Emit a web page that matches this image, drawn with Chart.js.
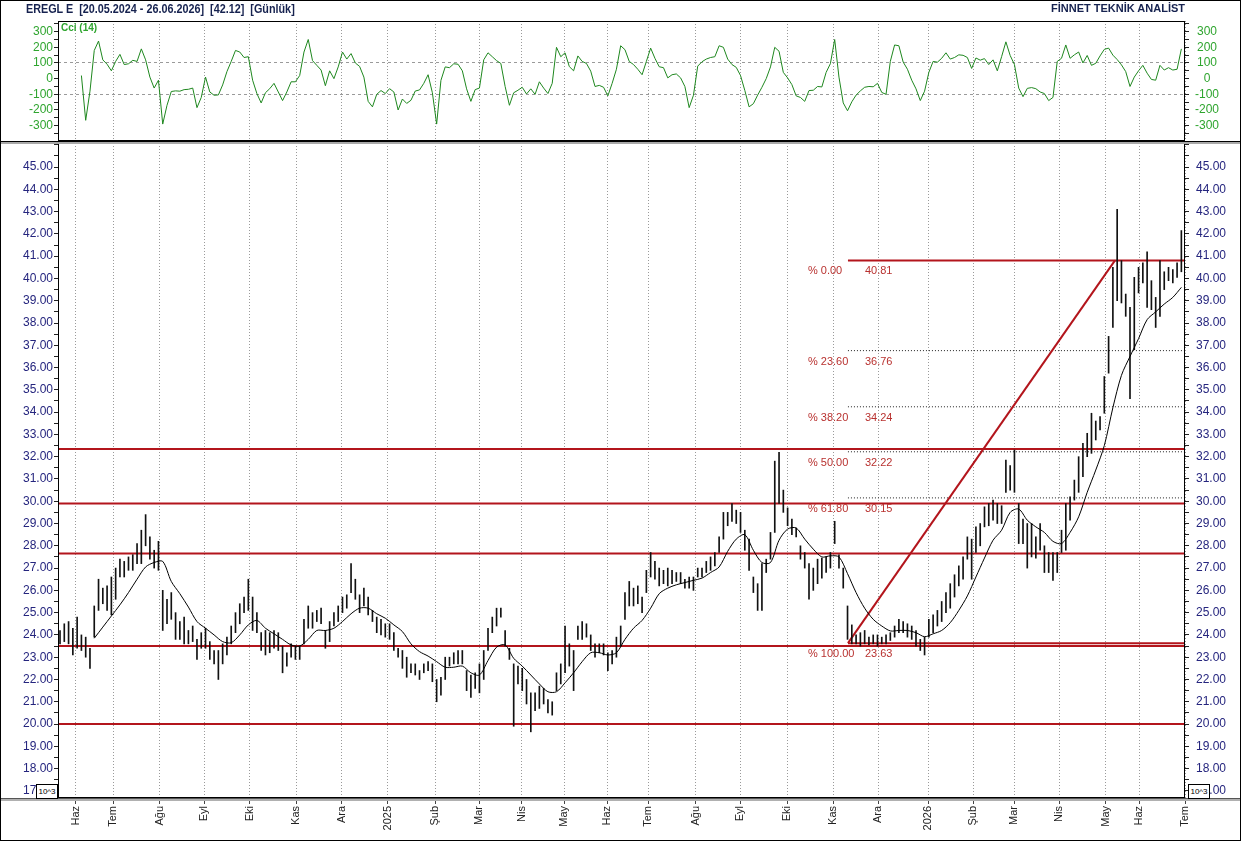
<!DOCTYPE html>
<html>
<head>
<meta charset="utf-8">
<script src="https://cdn.jsdelivr.net/npm/chart.js@4.4.1/dist/chart.umd.min.js"></script>
<style>
  body { margin: 0; background: #fff; }
  #wrap { position: relative; width: 1241px; height: 841px; overflow: hidden; background: #fff;
          font-family: "Liberation Sans", Arial, Helvetica, sans-serif; }
  #frame { position: absolute; left: 0; top: 0; width: 1241px; height: 841px; box-sizing: border-box;
           border: 1px solid #000; z-index: 5; pointer-events: none; }
  canvas { position: absolute; left: 0; }
  #cci { top: 0; }
  #price { top: 143px; }
  .band { position: absolute; left: 0; width: 1241px; z-index: 4; }
  #band1 { top: 141px; height: 1px; background: #000; border-bottom: 2px solid #a9a9a9; }
  #band2 { top: 798px; height: 1px; background: #555; border-bottom: 2px solid #b0b0b0; }
  #title { position: absolute; left: 26px; top: 2px; font-size: 12px; font-weight: bold; color: #16224f; white-space: pre;
           transform: scaleX(0.9); transform-origin: left center; }
  #brand { position: absolute; right: 56px; top: 2px; font-size: 11px; font-weight: bold; color: #16224f; white-space: pre; }
  #cciName { position: absolute; left: 61px; top: 22px; font-size: 10px; font-weight: bold; color: #2fa52f; }
  .exp { position: absolute; top: 784px; width: 20px; height: 13px; border: 1px solid #000; background: #fff;
         font-size: 8px; line-height: 13px; text-align: center; color: #000; z-index: 6; }
</style>
</head>
<body>
<div id="wrap">
  <canvas id="cci" width="1241" height="141"></canvas>
  <canvas id="price" width="1241" height="698"></canvas>
  <div id="band1" class="band"></div>
  <div id="band2" class="band"></div>
  <div id="title">EREGL E  [20.05.2024 - 26.06.2026]  [42.12]  [Günlük]</div>
  <div id="brand">FİNNET TEKNİK ANALİST</div>
  <div id="cciName">Cci (14)</div>
  <div class="exp" style="left:36px">10^3</div>
  <div class="exp" style="left:1188px">10^3</div>
  <div id="frame"></div>
</div>
<script>
const FONT = '"Liberation Sans", Arial, Helvetica, sans-serif';
const RED = "#b3151c";
const NAVY = "#25257e";
const GREEN_TXT = "#2fa52f";
const GREEN_LINE = "#1e871e";

// x runs in bar units (one bar = two trading days)
const X_MIN = -0.47;
const X_MAX = 262.85;
const Y_MIN = 16.68;
const Y_MAX = 46.08;

const monthLabels = ["Haz", "Tem", "Ağu", "Eyl", "Eki", "Kas", "Ara", "2025", "Şub", "Mar", "Nis", "May", "Haz",
  "Tem", "Ağu", "Eyl", "Eki", "Kas", "Ara", "2026", "Şub", "Mar", "Nis", "May", "Haz", "Tem"];
const monthPos = [3.67, 12.45, 23.36, 33.71, 44.39, 55.14, 65.82, 76.57, 87.62, 97.9, 107.87, 117.83, 127.87,
  137.45, 148.53, 158.88, 169.93, 180.68, 191.19, 202.87, 213.39, 222.97, 233.48, 244.39, 252.17, 262.85];

const lows = [
  23.6, 23.7, 23.6, 23.1, 23.4, 23.3, 23.0, 22.5, 23.9, 25.1,
  25.4, 25.1, 24.9, 25.6, 26.6, 26.6, 26.9, 26.9, 27.2, 27.2,
  28.0, 27.4, 27.0, 26.9, 24.2, 24.5, 24.7, 23.8, 23.8, 23.6,
  23.6, 23.7, 22.9, 23.4, 23.4, 22.9, 22.7, 22.0, 22.7, 23.1,
  23.6, 24.1, 24.5, 25.0, 25.1, 24.2, 24.1, 23.3, 23.1, 23.2,
  23.4, 23.3, 22.3, 22.6, 23.0, 22.9, 22.9, 23.6, 24.3, 24.3,
  24.6, 24.5, 23.4, 23.7, 24.4, 24.6, 25.0, 25.2, 25.9, 25.6,
  25.0, 25.3, 24.9, 24.6, 24.1, 24.0, 23.9, 23.8, 23.3, 23.0,
  22.5, 22.1, 22.3, 22.2, 22.0, 22.3, 22.4, 21.9, 21.0, 21.3,
  22.0, 22.6, 22.7, 22.7, 22.7, 21.5, 21.2, 21.6, 21.4, 22.0,
  23.3, 24.1, 24.4, 24.8, 23.5, 22.9, 19.9, 21.8, 21.5, 20.9,
  19.65, 20.6, 20.7, 20.9, 20.5, 20.4, 21.5, 21.8, 22.3, 22.6,
  21.5, 23.8, 23.8, 23.9, 23.3, 23.0, 23.2, 23.1, 22.4, 22.7,
  23.0, 23.5, 24.7, 25.3, 25.3, 25.4, 25.0, 25.9, 26.6, 26.5,
  26.2, 26.3, 26.2, 26.3, 26.4, 26.3, 26.1, 26.1, 26.0, 26.6,
  26.6, 26.8, 26.9, 27.1, 27.7, 28.3, 28.9, 29.1, 29.0, 28.6,
  27.8, 26.9, 25.9, 25.1, 25.1, 26.8, 27.4, 28.6, 29.9, 29.5,
  28.9, 28.5, 28.4, 27.4, 27.0, 25.6, 26.0, 26.3, 26.55, 26.8,
  27.0, 28.1, 27.0, 26.1, 23.8, 23.6, 23.6, 23.5, 23.6, 23.55,
  23.6, 23.5, 23.6, 23.6, 23.75, 23.9, 24.1, 24.1, 23.9, 23.8,
  23.5, 23.3, 23.1, 23.9, 24.1, 24.4, 24.6, 25.0, 25.2, 25.7,
  26.2, 26.5, 27.4, 26.5, 27.7, 28.0, 28.85, 28.9, 29.15, 29.0,
  29.0, 30.4, 30.5, 30.4, 28.1, 28.1, 27.0, 27.5, 27.45, 27.8,
  26.8, 26.8, 26.45, 26.8, 27.7, 27.8, 29.15, 30.05, 30.4, 31.1,
  32.0, 32.15, 32.75, 33.2, 33.95, 35.75, 37.8, 39.0, 38.9, 38.3,
  34.6, 36.8, 39.35, 39.8, 38.7, 38.6, 37.8, 38.3, 39.5, 39.9,
  39.8, 40.05, 40.3
];
const highs = [
  24.2, 24.5, 24.6, 24.3, 24.8, 24.0, 23.9, 23.4, 25.3, 26.5,
  26.1, 26.2, 26.6, 27.0, 27.4, 27.3, 27.5, 27.6, 28.1, 28.7,
  29.4, 28.4, 27.8, 28.2, 26.0, 25.6, 25.9, 25.0, 24.6, 24.8,
  24.2, 24.4, 23.8, 24.1, 24.3, 23.7, 23.3, 23.3, 23.6, 23.9,
  24.4, 25.0, 25.4, 25.7, 26.5, 25.7, 25.0, 24.1, 24.2, 24.1,
  24.2, 24.1, 23.5, 23.2, 23.6, 23.5, 23.5, 24.7, 25.3, 25.0,
  25.1, 25.2, 24.2, 24.6, 25.0, 25.3, 25.7, 25.8, 27.2, 26.5,
  25.8, 26.1, 25.7, 25.1, 24.8, 24.7, 24.5, 24.5, 24.1, 23.4,
  23.3, 23.0, 22.7, 22.7, 22.4, 22.7, 22.8, 22.7, 22.0, 22.1,
  23.0, 23.0, 23.2, 23.3, 23.3, 22.4, 22.2, 22.3, 22.7, 23.3,
  24.3, 24.8, 25.2, 25.2, 24.2, 23.4, 22.7, 22.6, 22.5, 22.0,
  21.4, 21.4, 21.7, 21.6, 21.1, 21.0, 22.3, 22.7, 24.4, 23.6,
  23.3, 24.4, 24.6, 24.5, 24.0, 23.6, 23.6, 23.6, 23.2, 23.3,
  23.9, 24.4, 25.9, 26.4, 26.1, 26.2, 25.7, 26.9, 27.7, 27.3,
  27.0, 26.9, 27.0, 26.9, 26.8, 26.8, 26.5, 26.6, 26.6, 27.0,
  27.0, 27.3, 27.5, 27.7, 28.4, 29.5, 29.5, 29.9, 29.6, 29.5,
  28.7, 28.3, 26.6, 26.3, 27.2, 27.4, 28.6, 31.8, 32.2, 30.5,
  29.7, 29.2, 28.8, 28.0, 27.7, 27.2, 27.0, 27.4, 27.45, 27.5,
  27.7, 29.1, 27.6, 27.0, 25.3, 24.45, 24.0, 24.1, 24.2, 23.9,
  24.0, 24.0, 23.9, 24.0, 24.1, 24.4, 24.7, 24.6, 24.5, 24.4,
  24.2, 23.8, 23.9, 24.7, 24.9, 25.1, 25.5, 25.9, 26.3, 26.7,
  27.1, 27.5, 28.4, 28.3, 28.85, 29.0, 29.75, 29.9, 30.05, 29.9,
  29.8, 31.85, 31.6, 32.3, 29.9, 29.2, 29.0, 29.0, 28.4, 29.0,
  28.0, 27.7, 27.7, 27.7, 28.7, 29.9, 30.2, 30.95, 32.0, 32.6,
  33.05, 33.95, 33.6, 33.8, 35.6, 37.4, 40.5, 43.1, 40.8, 39.3,
  38.7, 40.05, 40.5, 40.7, 41.2, 39.9, 39.15, 40.8, 40.3, 40.5,
  40.4, 40.7, 42.15
];

// moving average, read every second bar starting at bar 8
const MA_START = 8;
const maVals = [
  23.85, 24.35, 24.85, 25.35, 25.9, 26.5, 27.05, 27.25, 27.3, 26.4,
  25.85, 25.25, 24.6, 24.3, 24.0, 23.7, 23.65, 24.0, 24.45, 24.65,
  24.3, 24.05, 23.8, 23.55, 23.5, 23.8, 24.2, 24.2, 24.3, 24.6,
  24.95, 25.2, 25.2, 24.95, 24.75, 24.45, 24.15, 23.6, 23.25, 23.05,
  22.8, 22.55, 22.55, 22.6, 22.3, 22.2, 22.85, 23.45, 23.55, 22.95,
  22.6, 22.2, 21.8, 21.45, 21.45, 21.85, 22.3, 22.8, 23.2, 23.2,
  23.1, 23.2, 23.8, 24.3, 24.65, 25.2, 25.85, 26.1, 26.25, 26.35,
  26.45, 26.55, 26.8, 27.05, 27.75, 28.3, 28.5, 27.8, 27.25, 27.25,
  28.25, 28.75, 28.8, 28.3, 27.85, 27.5, 27.55, 27.5, 26.75, 25.9,
  25.2, 24.7, 24.4, 24.18, 24.2, 24.2, 24.1, 23.92, 24.05, 24.2,
  24.55, 25.1, 25.75, 26.6, 27.45, 28.25, 28.7, 29.5, 29.65, 29.15,
  28.85, 28.6, 28.2, 28.1, 28.6, 29.3, 30.4, 31.4, 32.5, 34.2,
  35.65, 36.5, 37.3, 38.15, 38.5, 38.85, 39.15, 39.6
];

// CCI(14), one value per bar starting at bar 5
const CCI_START = 5;
const cciVals = [
  20, -266, -80, 180, 240, 120, 92, 50, 110, 155,
  90, 95, 117, 110, 190, 120, 10, -60, -10, -290,
  -170, -82, -78, -80, -70, -68, -60, -185, -120, 10,
  -85, -106, -104, -40, 45, 110, 180, 170, 135, 140,
  -10, -95, -155, -90, -64, -30, -85, -140, -85, -20,
  -20, 20, 170, 250, 115, 85, 55, -45, 50, 0,
  75, 170, 125, 160, 100, 78, 10, -145, -180, -100,
  -76, -95, -64, -85, -200, -130, -158, -138, -79, -72,
  -30, 25, -90, -290, -11, 75, 70, 95, 92, 50,
  -65, -145, -70, -60, 120, 165, 140, 115, 97, -50,
  -170, -90, -74, -55, -98, -65, -100, -20, -60, -95,
  -30, 200, 140, 165, 77, 50, 145, 110, 97, 48,
  -50, -43, -55, -110, -30, 60, 210, 185, 110, 90,
  60, 25, 110, 195, 130, 76, 70, 5, 25, 30,
  5, -50, -185, -106, 80, 108, 125, 135, 140, 210,
  200, 125, 90, 72, 20, -75, -180, -160, -105, -55,
  0, 75, 200, 175, 40, 5, -38, -110, -120, -145,
  -76, -74, -50, -53, 40, 96, 250, 10, -155, -205,
  -148, -105, -78, -55, -50, -52, -30, -88, -100, 110,
  215, 210, 106, 60, -10, -65, -140, -80, 40, 110,
  105, 130, 165, 125, 135, 152, 149, 135, 65, 132,
  118, 128, 90, 120, 50, 140, 235, 148, 90, -60,
  -115, -62, -57, -64, -85, -95, -140, -120, 110, 130,
  215, 130, 152, 170, 100, 148, 85, 98, 145, 187,
  195, 150, 122, 88, 45, -50, 10, 50, 85, 35,
  -5, -10, 85, 55, 70, 55, 60, 190
];

const supportLevels = [32.35, 29.9, 27.65, 23.5, 20.0];
const fibPct = ["0.00", "23.60", "38.20", "50.00", "61.80", "100.00"];
const fibVals = [40.81, 36.76, 34.24, 32.22, 30.15, 23.63];
const fibFrom = 184.1;
const fibTo = 246.5;

Chart.defaults.font.family = FONT;
Chart.defaults.animation = false;

const framePlugin = {
  id: "frame",
  afterDraw(chart) {
    const { ctx, chartArea: a } = chart;
    ctx.save();
    ctx.strokeStyle = "#000";
    ctx.lineWidth = 1;
    ctx.strokeRect(Math.round(a.left) + 0.5, Math.round(a.top) + 0.5, Math.round(a.right - a.left) - 1, Math.round(a.bottom - a.top) - 1);
    ctx.restore();
  },
};

const fibText = {
  id: "fibText",
  afterDatasetsDraw(chart) {
    const { ctx, scales: { x, y } } = chart;
    const x0 = x.getPixelForValue(fibFrom);
    ctx.save();
    ctx.font = "11px " + FONT;
    ctx.fillStyle = "#b8312f";
    ctx.textBaseline = "middle";
    fibVals.forEach((v, i) => {
      const py = y.getPixelForValue(v) + 11;
      ctx.fillText("% " + fibPct[i], x0 - 40, py);
      ctx.fillText(v.toFixed(2), x0 + 17, py);
    });
    ctx.restore();
  },
};

function monthAxis(showLabels) {
  return {
    type: "linear",
    min: X_MIN,
    max: X_MAX,
    offset: false,
    afterBuildTicks: (s) => { s.ticks = monthPos.map((v) => ({ value: v })); },
    ticks: {
      display: showLabels,
      autoSkip: false,
      minRotation: 90,
      maxRotation: 90,
      padding: 2,
      color: "#222",
      font: { size: 11 },
      callback: (v, i) => monthLabels[i],
    },
    grid: {
      offset: false,
      color: "#9a9a9a",
      drawTicks: showLabels,
      tickLength: 6,
      tickColor: "#444",
      tickBorderDash: [],
    },
    border: { display: false, dash: [1, 2] },
    afterFit: (s) => { s.height = showLabels ? 43 : 0; s.paddingLeft = 0; s.paddingRight = 0; },
  };
}

function priceAxis(pos) {
  return {
    type: "linear",
    position: pos,
    min: Y_MIN,
    max: Y_MAX,
    afterBuildTicks: (s) => {
      s.ticks = s.ticks.filter((t) => t.value >= 17 && Math.abs(t.value * 2 - Math.round(t.value * 2)) < 1e-6);
    },
    ticks: {
      stepSize: 0.5,
      includeBounds: false,
      autoSkip: false,
      color: NAVY,
      font: { size: 12 },
      padding: pos === "left" ? 1 : 7,
      callback: (v) => (Number.isInteger(v) && v <= 45 ? v.toFixed(2) : ""),
    },
    grid: { drawOnChartArea: false, tickLength: 4, tickColor: "#222" },
    border: { display: false },
    afterFit: (s) => { s.width = pos === "left" ? 58 : 56; s.paddingTop = 0; s.paddingBottom = 0; },
  };
}

function cciAxis(pos) {
  return {
    type: "linear",
    position: pos,
    min: -398,
    max: 368,
    afterBuildTicks: (s) => {
      s.ticks = s.ticks.filter((t) => t.value % 50 === 0 && t.value >= -350 && t.value <= 350);
    },
    ticks: {
      stepSize: 50,
      includeBounds: false,
      autoSkip: false,
      color: GREEN_TXT,
      font: { size: 12 },
      padding: pos === "left" ? 1 : 6,
      crossAlign: pos === "left" ? "near" : "center",
      callback: (v) => (v % 100 === 0 ? String(v) : ""),
    },
    grid: {
      drawOnChartArea: pos === "left",
      color: (ctx) => (ctx.tick && Math.abs(ctx.tick.value) === 100 ? "#9a9a9a" : "rgba(0,0,0,0)"),
      tickLength: 4,
      tickColor: "#222",
      tickBorderDash: [],
    },
    border: { display: false, dash: [3, 3] },
    afterFit: (s) => { s.width = pos === "left" ? 58 : 56; s.paddingTop = 0; s.paddingBottom = 0; },
  };
}

function hLine(x1, x2, v, color, width, dash, order) {
  return {
    type: "line",
    data: [{ x: x1, y: v }, { x: x2, y: v }],
    borderColor: color,
    borderWidth: width,
    borderDash: dash,
    pointRadius: 0,
    order: order,
  };
}

const lineSets = [];
supportLevels.forEach((v) => lineSets.push(hLine(X_MIN, X_MAX, v, RED, 2, [], 5)));
fibVals.forEach((v, i) => {
  const solid = i === 0 || i === fibVals.length - 1;
  lineSets.push(hLine(fibFrom, X_MAX, v, solid ? RED : "#222", solid ? 2 : 1, solid ? [] : [1, 2], 6));
});
lineSets.push({
  type: "line",
  data: [{ x: fibFrom, y: fibVals[fibVals.length - 1] }, { x: fibTo, y: fibVals[0] }],
  borderColor: RED,
  borderWidth: 2,
  pointRadius: 0,
  order: 4,
});

new Chart(document.getElementById("price"), {
  type: "bar",
  data: {
    datasets: [
      {
        type: "bar",
        data: lows.map((lo, i) => ({ x: i, y: [lo, highs[i]] })),
        backgroundColor: "#111",
        borderWidth: 0,
        barThickness: 1,
        order: 2,
      },
      {
        type: "line",
        data: maVals.map((v, i) => ({ x: MA_START + 2 * i, y: v })),
        borderColor: "#000",
        borderWidth: 1,
        pointRadius: 0,
        tension: 0.3,
        order: 1,
      },
      ...lineSets,
    ],
  },
  options: {
    responsive: false,
    devicePixelRatio: 1,
    layout: { padding: 0 },
    plugins: { legend: { display: false }, tooltip: { enabled: false } },
    scales: {
      x: monthAxis(true),
      y: priceAxis("left"),
      y2: priceAxis("right"),
    },
  },
  plugins: [fibText, framePlugin],
});

new Chart(document.getElementById("cci"), {
  type: "line",
  data: {
    datasets: [{
      data: cciVals.map((v, i) => ({ x: CCI_START + i, y: v })),
      borderColor: GREEN_LINE,
      borderWidth: 1,
      pointRadius: 0,
      tension: 0,
    }],
  },
  options: {
    responsive: false,
    devicePixelRatio: 1,
    layout: { padding: { top: 21, bottom: 0, left: 0, right: 0 } },
    plugins: { legend: { display: false }, tooltip: { enabled: false } },
    scales: {
      x: monthAxis(false),
      y: cciAxis("left"),
      y2: cciAxis("right"),
    },
  },
  plugins: [framePlugin],
});
</script>
</body>
</html>
